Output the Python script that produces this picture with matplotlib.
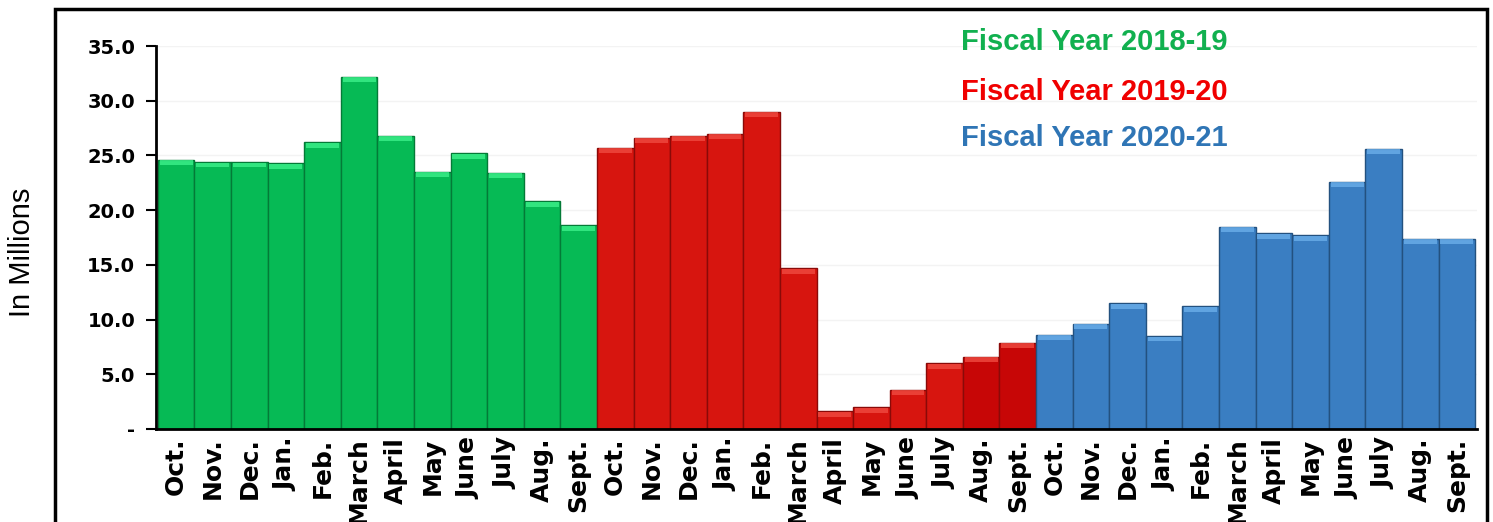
import numpy as np
import matplotlib.pyplot as plt
from matplotlib.patches import Rectangle

### --- data --- ###
months = ['Oct.', 'Nov.', 'Dec.', 'Jan.', 'Feb.', 'March', 'April', 'May',
          'June', 'July', 'Aug.', 'Sept.']
fy1819 = [24.6, 24.4, 24.4, 24.3, 26.2, 32.2, 26.8, 23.5, 25.2, 23.4, 20.8, 18.6]
fy1920 = [25.7, 26.6, 26.8, 27.0, 29.0, 14.7, 1.6, 2.0, 3.6, 6.0, 6.6, 7.9]
fy2021 = [8.6, 9.6, 11.5, 8.5, 11.2, 18.5, 17.9, 17.7, 22.6, 25.6, 17.4, 17.4]
years = ['Fiscal Year 2018-19', 'Fiscal Year 2019-20', 'Fiscal Year 2020-21']
yticks = [0, 5, 10, 15, 20, 25, 30, 35]
ytick_labels = ['-', '5.0', '10.0', '15.0', '20.0', '25.0', '30.0', '35.0']

### --- styles --- ###
fills = ['#06BA55', '#D7150F', '#3A7EC2']
edges = ['#047A37', '#8A0A08', '#23517F']
tops = ['#3DF08A', '#F04A40', '#6AAEEA']
text_cols = ['#11B04F', '#F00000', '#2F75B5']

fig = plt.figure(figsize=(14.93, 5.22), dpi=100)
ax = fig.add_axes([156/1493, 1-429/522, (1477-156)/1493, (429-46)/522])

series = [fy1819, fy1920, fy2021]
labels = months * 3
for i, vals in enumerate(series):
    x = np.arange(12) + 12*i
    vals = np.array(vals)
    cols = [fills[i]] * 12
    if i == 1:
        # last bars a bit darker in the original
        cols[10] = '#C70606'
        cols[11] = '#C70606'
    ax.bar(x, vals, width=1.0, color=cols, edgecolor=edges[i], linewidth=1.0, zorder=2)
    # top bevel strip
    ax.bar(x, np.full(12, 0.45), bottom=vals-0.5, width=0.9, color=tops[i],
           edgecolor='none', alpha=0.8, zorder=3)

ax.set_xlim(-0.55, 35.55)
ax.set_ylim(0, 35)
ax.set_yticks(yticks)
ax.set_yticklabels(ytick_labels, fontsize=14, fontweight='bold', family='DejaVu Sans')
ax.set_xticks(np.arange(36))
ax.set_xticklabels(labels, rotation=90, fontsize=18, fontweight='bold', family='DejaVu Sans')
ax.tick_params(axis='x', length=0, pad=6)
ax.tick_params(axis='y', direction='out', length=7, width=1.5, pad=8)

#adds faint gridlines
ax.yaxis.grid(True, color='#F3F3F3', linewidth=1)
ax.set_axisbelow(True)

ax.spines['top'].set_visible(False)
ax.spines['right'].set_visible(False)
ax.spines['left'].set_linewidth(2)
ax.spines['bottom'].set_linewidth(2)
ax.spines['bottom'].set_zorder(5)

fig.text(22/1493, 1-252/522, 'In Millions', rotation=90, fontsize=21,
         family='Liberation Sans', ha='center', va='center')

ys = [42, 92, 138]
for name, c, yy in zip(years, text_cols, ys):
    fig.text(1094/1493, 1-yy/522, name, color=c, fontsize=21, fontweight='bold',
             family='Liberation Sans', ha='center', va='center')

# outer frame
fig.patches.append(Rectangle((55/1493, -0.1), (1487-55)/1493, 1.1-9/522,
                             transform=fig.transFigure, fill=False,
                             edgecolor='black', linewidth=2.5))

fig.savefig('out.png', dpi=100)
